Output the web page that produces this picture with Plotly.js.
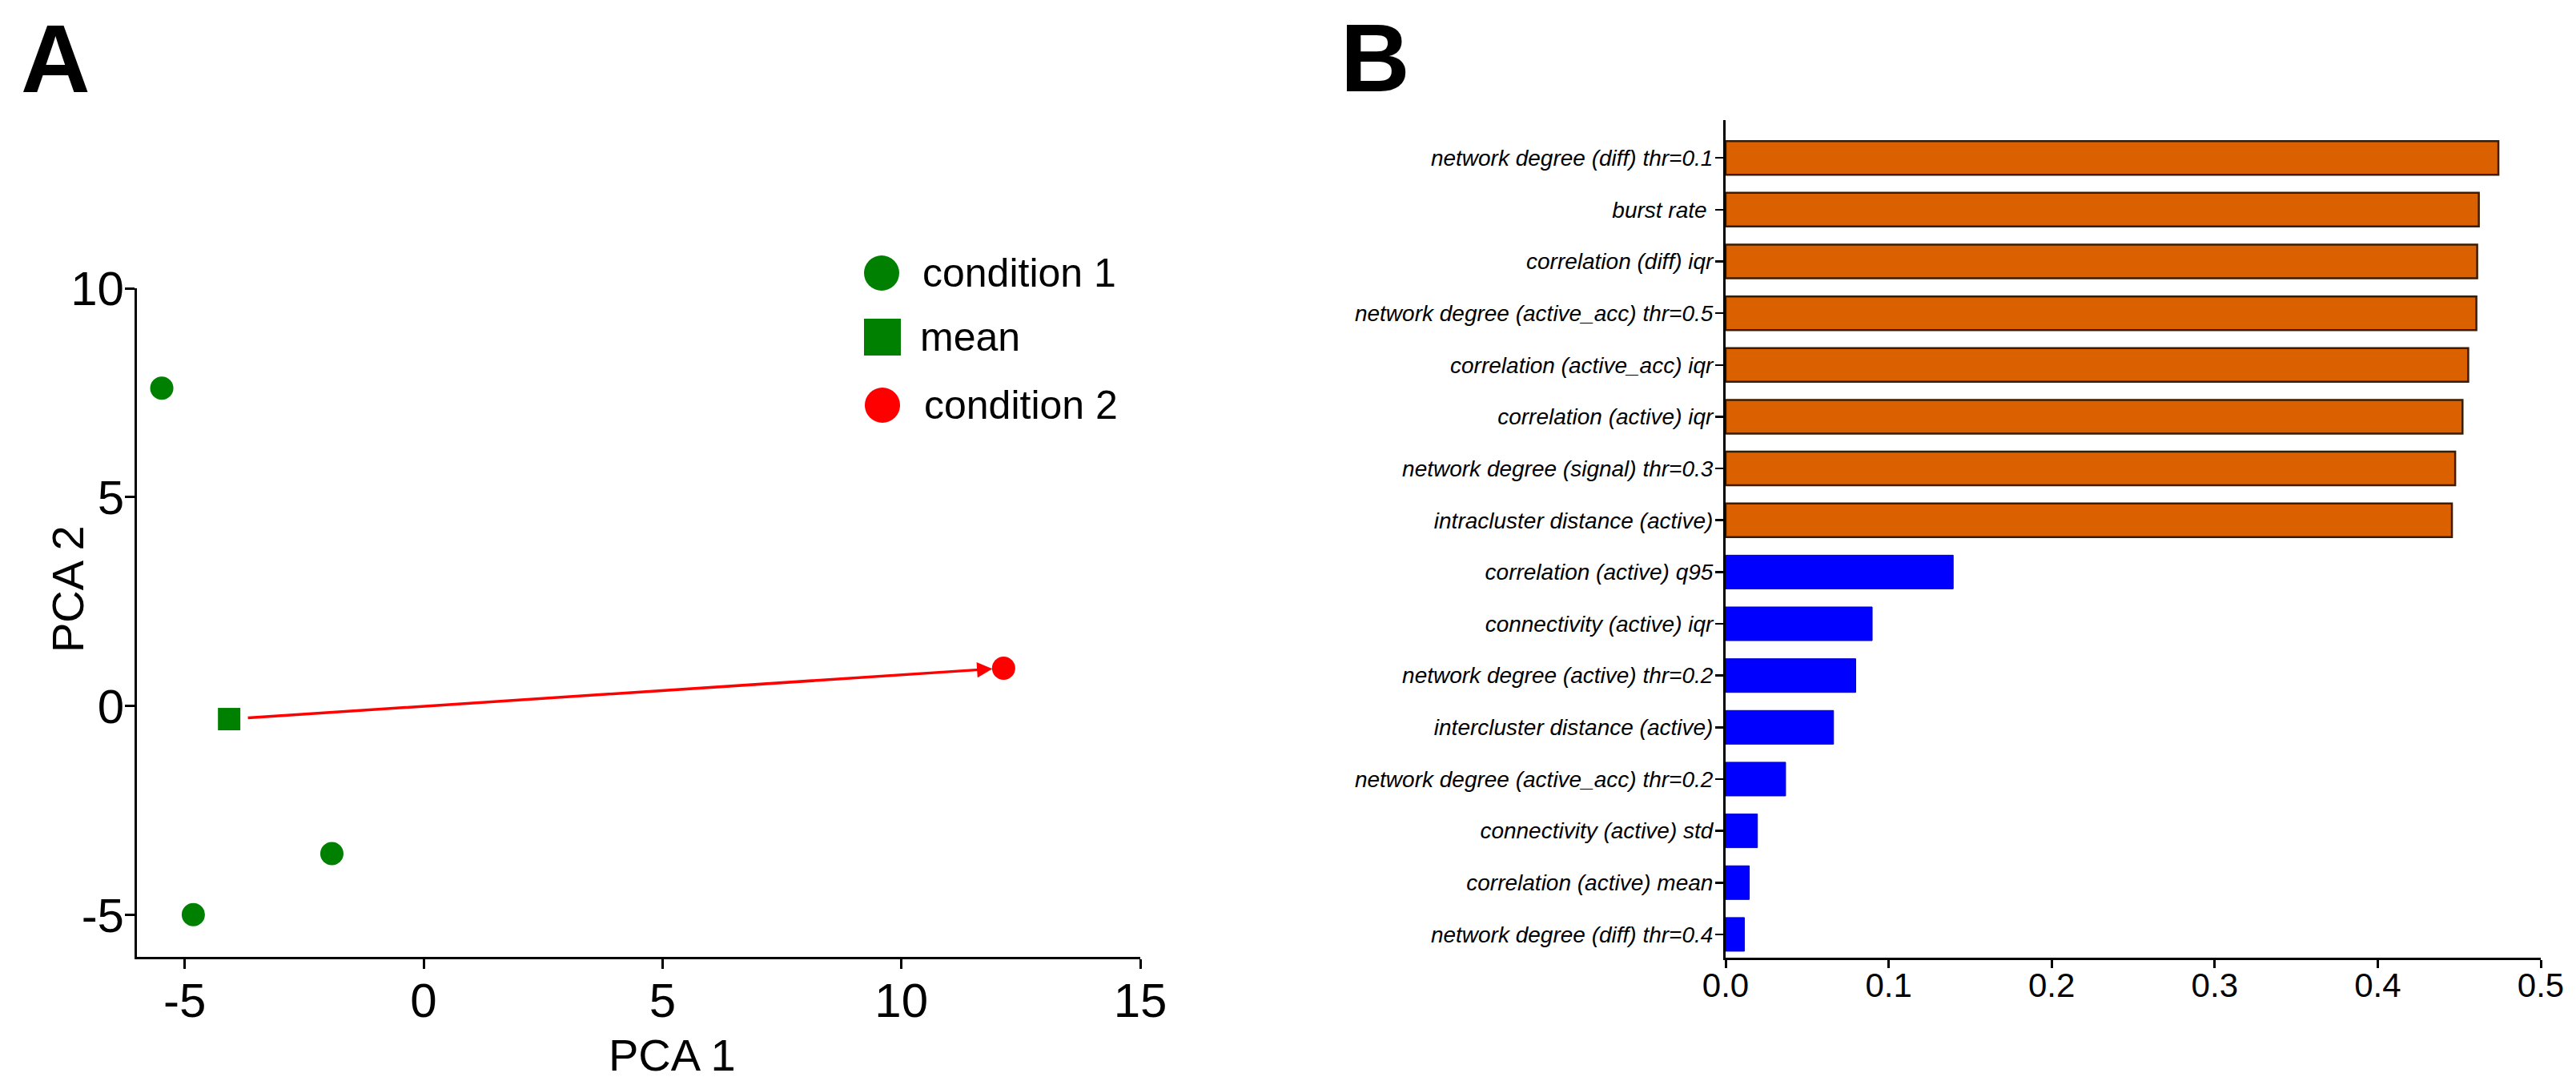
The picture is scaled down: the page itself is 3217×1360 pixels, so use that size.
<!DOCTYPE html>
<html>
<head>
<meta charset="utf-8">
<script src="https://cdn.plot.ly/plotly-3.0.1.min.js"></script>
<style>html,body{margin:0;padding:0;background:#fff;}#chart{width:3217px;height:1360px;}</style>
</head>
<body>
<div id="chart"></div>
<script>
// ---------- Panel A data (PCA) ----------
const cond1X = [-5.48, -4.82, -1.92];
const cond1Y = [7.61, -4.99, -3.53];
const meanX = [-4.07];
const meanY = [-0.31];
const cond2X = [12.14];
const cond2Y = [0.91];
const pcaXTicks = [-5, 0, 5, 10, 15];
const pcaYTicks = [-5, 0, 5, 10];
const legendNames = ['condition 1', 'mean', 'condition 2'];
const legendColors = ['#008000', '#008000', '#ff0000'];
const legendSymbols = ['circle', 'square', 'circle'];

// ---------- Panel B data (feature importance) ----------
const featureLabels = [
  'network degree (diff) thr=0.1',
  'burst rate ',
  'correlation (diff) iqr',
  'network degree (active_acc) thr=0.5',
  'correlation (active_acc) iqr',
  'correlation (active) iqr',
  'network degree (signal) thr=0.3',
  'intracluster distance (active)',
  'correlation (active) q95',
  'connectivity (active) iqr',
  'network degree (active) thr=0.2',
  'intercluster distance (active)',
  'network degree (active_acc) thr=0.2',
  'connectivity (active) std',
  'correlation (active) mean',
  'network degree (diff) thr=0.4'
];
const featureValues = [0.474, 0.462, 0.461, 0.4605, 0.4555, 0.452, 0.4475, 0.4455,
                       0.1396, 0.0899, 0.0798, 0.0662, 0.0368, 0.0195, 0.0145, 0.0115];
const featureGroup = ['top','top','top','top','top','top','top','top',
                      'low','low','low','low','low','low','low','low'];
const barTicks = [0, 0.1, 0.2, 0.3, 0.4, 0.5];

// ---------- helpers ----------
const W = 3217, H = 1360;
const FONT = 'Liberation Sans, Arial, Helvetica, sans-serif';
const px = v => v / W;
const py = v => 1 - v / H;

const groupColor = {top: '#da6000', low: '#0000ff'};
const groupLine = {top: '#3a1c00', low: '#0000cc'};
const groupLineW = {top: 2.5, low: 1};

const traces = [
  {type: 'scatter', mode: 'markers', name: legendNames[0], x: cond1X, y: cond1Y,
   xaxis: 'x', yaxis: 'y', marker: {symbol: legendSymbols[0], size: 29, color: legendColors[0]}},
  {type: 'scatter', mode: 'markers', name: legendNames[1], x: meanX, y: meanY,
   xaxis: 'x', yaxis: 'y', marker: {symbol: legendSymbols[1], size: 28, color: legendColors[1]}},
  {type: 'scatter', mode: 'markers', name: legendNames[2], x: cond2X, y: cond2Y,
   xaxis: 'x', yaxis: 'y', marker: {symbol: legendSymbols[2], size: 29, color: legendColors[2]}},
  {type: 'bar', orientation: 'h', x: featureValues, y: featureLabels,
   xaxis: 'x2', yaxis: 'y2',
   marker: {color: featureGroup.map(g => groupColor[g]),
            line: {color: featureGroup.map(g => groupLine[g]), width: featureGroup.map(g => groupLineW[g])}}}
];

const axisCommon = {
  showgrid: false, zeroline: false, showline: true, linecolor: '#000', linewidth: 3,
  ticks: 'outside', tickcolor: '#000', mirror: false
};

// legend drawn as shapes + text (large markers as in the reference)
const legendCenters = [[1101, 341], [1102, 421], [1102, 506]];
const legendTextX = [1153, 1150, 1155];
const shapes = legendNames.map((n, i) => ({
  type: legendSymbols[i] === 'square' ? 'rect' : 'circle',
  xref: 'paper', yref: 'paper', xsizemode: 'pixel', ysizemode: 'pixel',
  xanchor: px(legendCenters[i][0]), yanchor: py(legendCenters[i][1]),
  x0: legendSymbols[i] === 'square' ? -23 : -22, x1: legendSymbols[i] === 'square' ? 23 : 22,
  y0: legendSymbols[i] === 'square' ? -23 : -22, y1: legendSymbols[i] === 'square' ? 23 : 22,
  fillcolor: legendColors[i], line: {width: 0}
}));

const annotations = [
  {text: 'A', xref: 'paper', yref: 'paper', x: px(24), y: py(73), xanchor: 'left', yanchor: 'middle',
   showarrow: false, font: {family: FONT, size: 120, color: '#000', weight: 'bold'}},
  {text: 'B', xref: 'paper', yref: 'paper', x: px(1672), y: py(72), xanchor: 'left', yanchor: 'middle',
   showarrow: false, font: {family: FONT, size: 120, color: '#000', weight: 'bold'}},
  {text: 'PCA 1', xref: 'paper', yref: 'paper', x: px(840), y: py(1317), xanchor: 'center', yanchor: 'middle',
   showarrow: false, font: {family: FONT, size: 56, color: '#000'}},
  {text: 'PCA 2', xref: 'paper', yref: 'paper', x: px(84), y: py(736), xanchor: 'center', yanchor: 'middle',
   textangle: -90, showarrow: false, font: {family: FONT, size: 56, color: '#000'}},
  {text: '', x: cond2X[0], y: cond2Y[0], ax: meanX[0], ay: meanY[0],
   xref: 'x', yref: 'y', axref: 'x', ayref: 'y', showarrow: true,
   arrowhead: 2, arrowsize: 1.1, arrowwidth: 3.5, arrowcolor: '#ff0000', standoff: 14, startstandoff: 22}
].concat(legendNames.map((n, i) => ({
  text: n, xref: 'paper', yref: 'paper', x: px(legendTextX[i] - 3), y: py(legendCenters[i][1]),
  xanchor: 'left', yanchor: 'middle', showarrow: false,
  font: {family: FONT, size: 50, color: '#000'}
})));

const layout = {
  width: W, height: H,
  margin: {l: 0, r: 0, t: 0, b: 0, pad: 0},
  paper_bgcolor: '#fff', plot_bgcolor: 'rgba(0,0,0,0)',
  showlegend: false,
  font: {family: FONT, color: '#000'},
  xaxis: Object.assign({}, axisCommon, {
    domain: [px(171), px(1424)], range: [-6, 15], anchor: 'y',
    tickmode: 'array', tickvals: pcaXTicks, ticktext: pcaXTicks.map(String),
    ticklen: 12, tickwidth: 3, ticklabelstandoff: -12,
    tickfont: {family: FONT, size: 60, color: '#000'}
  }),
  yaxis: Object.assign({}, axisCommon, {
    domain: [py(1195), py(360)], range: [-6, 10], anchor: 'x',
    tickmode: 'array', tickvals: pcaYTicks, ticktext: pcaYTicks.map(String),
    ticklen: 12, tickwidth: 3, ticklabelstandoff: -11,
    tickfont: {family: FONT, size: 60, color: '#000'}
  }),
  xaxis2: Object.assign({}, axisCommon, {
    domain: [px(2155), px(3173)], range: [0, 0.5], anchor: 'y2',
    tickmode: 'array', tickvals: barTicks, ticktext: barTicks.map(v => v.toFixed(1)),
    ticklen: 10, tickwidth: 3, ticklabelstandoff: -14,
    tickfont: {family: FONT, size: 42, color: '#000'}
  }),
  yaxis2: Object.assign({}, axisCommon, {
    domain: [py(1196), py(150)], type: 'category', range: [15.45, -0.73], anchor: 'x2',
    categoryorder: 'array', categoryarray: featureLabels,
    ticklen: 10, tickwidth: 2.5, ticklabelstandoff: -3,
    tickfont: {family: FONT, size: 28, color: '#000', style: 'italic'}
  }),
  bargap: 0.35,
  shapes: shapes,
  annotations: annotations
};

Plotly.newPlot('chart', traces, layout, {displayModeBar: false, staticPlot: true});
</script>
</body>
</html>
